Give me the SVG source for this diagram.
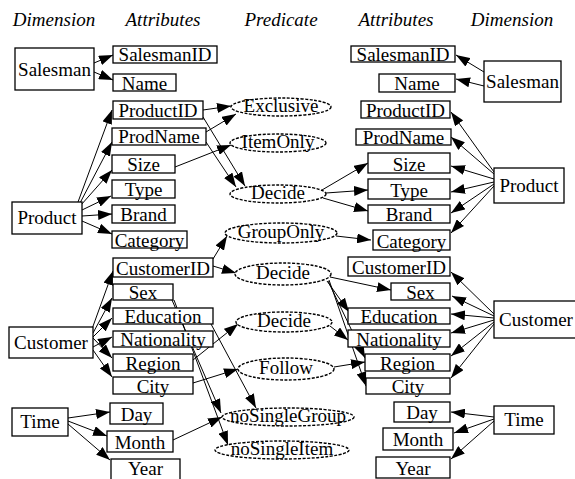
<svg xmlns="http://www.w3.org/2000/svg" width="575" height="479" viewBox="0 0 575 479">
<style>
text{font-family:"Liberation Serif","Times New Roman",serif;font-size:19px;fill:#000;text-anchor:middle}
.hd{font-style:italic}
.box{fill:#fff;stroke:#000;stroke-width:1.3}
.pred{fill:#fff;stroke:#000;stroke-width:1.4;stroke-dasharray:3 1.5}
.e{fill:none;stroke:#000;stroke-width:1;marker-end:url(#ah)}
</style>
<defs>
<marker id="ah" markerUnits="userSpaceOnUse" markerWidth="14" markerHeight="10" refX="14" refY="5" orient="auto"><path d="M0,0 L14,5 L0,10 z" fill="#000"/></marker>
</defs>
<g id="headers">
<text class="hd" x="54" y="26">Dimension</text>
<text class="hd" x="163" y="26">Attributes</text>
<text class="hd" x="281" y="26">Predicate</text>
<text class="hd" x="396" y="26">Attributes</text>
<text class="hd" x="512" y="26">Dimension</text>
</g>
<g id="edges">
<path class="e" d="M94,63 L113,55"/>
<path class="e" d="M94,72 L113,80"/>
<path class="e" d="M78,202 L112,110"/>
<path class="e" d="M80,203 L112,142"/>
<path class="e" d="M81,205 L112,170"/>
<path class="e" d="M82,210 L111,196"/>
<path class="e" d="M82,216 L112,214"/>
<path class="e" d="M82,221 L112,234"/>
<path class="e" d="M92,329 L113,271"/>
<path class="e" d="M93,333 L112,298"/>
<path class="e" d="M93,337 L112,318"/>
<path class="e" d="M93,347 L112,337"/>
<path class="e" d="M93,338 L112,358"/>
<path class="e" d="M93,350 L112,377"/>
<path class="e" d="M68,418 L110,412"/>
<path class="e" d="M68,421 L107,436"/>
<path class="e" d="M68,424 L110,460"/>
<path class="e" d="M203,110 L231,106"/>
<path class="e" d="M203,117 L245,186"/>
<path class="e" d="M206,132 L236,114"/>
<path class="e" d="M206,142 L236,187"/>
<path class="e" d="M175,167 L231,145"/>
<path class="e" d="M213,259 L227,236"/>
<path class="e" d="M213,266 L236,273"/>
<path class="e" d="M172,300 L221,413"/>
<path class="e" d="M174,300 L228,445"/>
<path class="e" d="M211,324 L256,408"/>
<path class="e" d="M193,360 L238,324"/>
<path class="e" d="M193,383 L238,369"/>
<path class="e" d="M173,440 L222,417"/>
<path class="e" d="M322,190 L368,163"/>
<path class="e" d="M326,193 L368,190"/>
<path class="e" d="M323,198 L368,211"/>
<path class="e" d="M336,236 L371,240"/>
<path class="e" d="M330,277 L391,290"/>
<path class="e" d="M327,281 L349,312"/>
<path class="e" d="M328,281 L365,358"/>
<path class="e" d="M329,280 L366,386"/>
<path class="e" d="M330,326 L348,340"/>
<path class="e" d="M334,367 L365,362"/>
<path class="e" d="M484,72 L456,55"/>
<path class="e" d="M484,86 L456,79"/>
<path class="e" d="M494,172 L451,112"/>
<path class="e" d="M494,174 L451,137"/>
<path class="e" d="M494,179 L451,166"/>
<path class="e" d="M494,182 L451,192"/>
<path class="e" d="M494,184 L451,213"/>
<path class="e" d="M494,186 L451,233"/>
<path class="e" d="M494,314 L451,272"/>
<path class="e" d="M494,316 L452,296"/>
<path class="e" d="M494,318 L451,314"/>
<path class="e" d="M494,320 L451,333"/>
<path class="e" d="M494,322 L451,356"/>
<path class="e" d="M494,324 L451,378"/>
<path class="e" d="M494,417 L451,412"/>
<path class="e" d="M494,419 L454,433"/>
<path class="e" d="M494,421 L451,459"/>
</g>
<g id="SalesmanL"><rect class="box" x="15" y="48" width="79" height="42"/><text x="54.5" y="76">Salesman</text></g>
<g id="SalesmanIDL"><rect class="box" x="113" y="46" width="104" height="17"/><text x="165" y="61">SalesmanID</text></g>
<g id="NameL"><rect class="box" x="113" y="74" width="63" height="17"/><text x="144.5" y="90">Name</text></g>
<g id="ProductIDL"><rect class="box" x="113" y="101" width="90" height="18"/><text x="158" y="117">ProductID</text></g>
<g id="ProdNameL"><rect class="box" x="112" y="128" width="94" height="17"/><text x="159" y="143">ProdName</text></g>
<g id="SizeL"><rect class="box" x="112" y="155" width="63" height="18"/><text x="143.5" y="171">Size</text></g>
<g id="TypeL"><rect class="box" x="112" y="180" width="63" height="18"/><text x="143.5" y="196">Type</text></g>
<g id="BrandL"><rect class="box" x="112" y="205" width="63" height="18"/><text x="143.5" y="221">Brand</text></g>
<g id="CategoryL"><rect class="box" x="112" y="231" width="75" height="17"/><text x="149.5" y="247">Category</text></g>
<g id="ProductL"><rect class="box" x="12" y="202" width="70" height="32"/><text x="47" y="224">Product</text></g>
<g id="CustomerIDL"><rect class="box" x="113" y="258" width="100" height="19"/><text x="163" y="275">CustomerID</text></g>
<g id="SexL"><rect class="box" x="113" y="284" width="60" height="16"/><text x="143" y="299">Sex</text></g>
<g id="EducationL"><rect class="box" x="113" y="308" width="100" height="16"/><text x="163" y="323">Education</text></g>
<g id="NationalityL"><rect class="box" x="113" y="331" width="100" height="16"/><text x="163" y="346">Nationality</text></g>
<g id="RegionL"><rect class="box" x="113" y="354" width="80" height="17"/><text x="153" y="370">Region</text></g>
<g id="CityL"><rect class="box" x="113" y="377" width="80" height="17"/><text x="153" y="393">City</text></g>
<g id="CustomerL"><rect class="box" x="9" y="327" width="84" height="31"/><text x="51" y="349">Customer</text></g>
<g id="TimeL"><rect class="box" x="12" y="408" width="56" height="28"/><text x="40" y="428">Time</text></g>
<g id="DayL"><rect class="box" x="110" y="403" width="53" height="21"/><text x="136.5" y="421">Day</text></g>
<g id="MonthL"><rect class="box" x="107" y="431" width="66" height="21"/><text x="140" y="449">Month</text></g>
<g id="YearL"><rect class="box" x="111" y="459" width="69" height="22"/><text x="145.5" y="475">Year</text></g>
<g id="Exclusive"><ellipse class="pred" cx="281" cy="107" rx="50" ry="9"/><text x="281" y="112">Exclusive</text></g>
<g id="ItemOnly"><ellipse class="pred" cx="278" cy="143" rx="48" ry="9"/><text x="278" y="148">ItemOnly</text></g>
<g id="Decide1"><ellipse class="pred" cx="278" cy="194" rx="48" ry="9"/><text x="278" y="199">Decide</text></g>
<g id="GroupOnly"><ellipse class="pred" cx="281" cy="233" rx="56" ry="10"/><text x="281" y="238">GroupOnly</text></g>
<g id="Decide2"><ellipse class="pred" cx="283" cy="274" rx="48" ry="11"/><text x="283" y="279">Decide</text></g>
<g id="Decide3"><ellipse class="pred" cx="284" cy="322" rx="48" ry="10"/><text x="284" y="327">Decide</text></g>
<g id="Follow"><ellipse class="pred" cx="286" cy="369" rx="48" ry="11"/><text x="286" y="374">Follow</text></g>
<g id="noSingleGroup"><ellipse class="pred" cx="288" cy="417" rx="66" ry="9"/><text x="288" y="422">noSingleGroup</text></g>
<g id="noSingleItem"><ellipse class="pred" cx="282" cy="450" rx="67" ry="9"/><text x="282" y="455">noSingleItem</text></g>
<g id="SalesmanIDR"><rect class="box" x="351" y="46" width="104" height="16"/><text x="403" y="61">SalesmanID</text></g>
<g id="NameR"><rect class="box" x="379" y="74" width="76" height="18"/><text x="417" y="90">Name</text></g>
<g id="SalesmanR"><rect class="box" x="484" y="61" width="77" height="41"/><text x="522.5" y="88">Salesman</text></g>
<g id="ProductIDR"><rect class="box" x="361" y="101" width="89" height="17"/><text x="405.5" y="117">ProductID</text></g>
<g id="ProdNameR"><rect class="box" x="356" y="129" width="95" height="16"/><text x="403.5" y="144">ProdName</text></g>
<g id="SizeR"><rect class="box" x="368" y="153" width="82" height="20"/><text x="409" y="171">Size</text></g>
<g id="TypeR"><rect class="box" x="368" y="179" width="82" height="20"/><text x="409" y="197">Type</text></g>
<g id="BrandR"><rect class="box" x="368" y="205" width="82" height="18"/><text x="409" y="221">Brand</text></g>
<g id="CategoryR"><rect class="box" x="373" y="230" width="77" height="20"/><text x="411.5" y="248">Category</text></g>
<g id="ProductR"><rect class="box" x="494" y="168" width="70" height="35"/><text x="529" y="192">Product</text></g>
<g id="CustomerIDR"><rect class="box" x="348" y="257" width="102" height="19"/><text x="399" y="274">CustomerID</text></g>
<g id="SexR"><rect class="box" x="391" y="283" width="59" height="17"/><text x="420.5" y="299">Sex</text></g>
<g id="EducationR"><rect class="box" x="348" y="308" width="102" height="16"/><text x="399" y="323">Education</text></g>
<g id="NationalityR"><rect class="box" x="348" y="330" width="102" height="17"/><text x="399" y="346">Nationality</text></g>
<g id="RegionR"><rect class="box" x="365" y="354" width="85" height="17"/><text x="407.5" y="370">Region</text></g>
<g id="CityR"><rect class="box" x="366" y="378" width="84" height="16"/><text x="408" y="393">City</text></g>
<g id="CustomerR"><rect class="box" x="494" y="301" width="84" height="37"/><text x="536" y="326">Customer</text></g>
<g id="DayR"><rect class="box" x="394" y="402" width="56" height="20"/><text x="422" y="419">Day</text></g>
<g id="MonthR"><rect class="box" x="383" y="428" width="70" height="22"/><text x="418" y="446">Month</text></g>
<g id="YearR"><rect class="box" x="376" y="457" width="74" height="21"/><text x="413" y="475">Year</text></g>
<g id="TimeR"><rect class="box" x="494" y="406" width="60" height="28"/><text x="524" y="426">Time</text></g>
</svg>
